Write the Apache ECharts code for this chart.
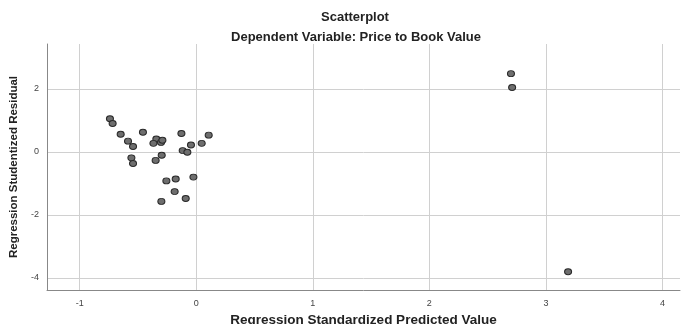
<!DOCTYPE html>
<html><head><meta charset="utf-8">
<script src="https://cdn.jsdelivr.net/npm/echarts@6/dist/echarts.min.js"></script>
<style>html,body{margin:0;padding:0;background:#fff}#c{width:684px;height:324px}</style>
</head><body><div id="c"></div>
<script>
var predicted = [-0.74,-0.717,-0.648,-0.457,-0.585,-0.542,-0.342,-0.367,-0.302,-0.29,-0.127,0.107,0.047,-0.045,-0.116,-0.076,-0.296,-0.348,-0.556,-0.542,-0.024,-0.176,-0.256,-0.185,-0.09,-0.299,2.70,2.71,3.19];
var residual  = [1.05,0.90,0.56,0.62,0.34,0.17,0.41,0.27,0.30,0.37,0.58,0.53,0.27,0.22,0.04,-0.01,-0.11,-0.27,-0.19,-0.37,-0.80,-0.86,-0.92,-1.26,-1.48,-1.57,2.48,2.04,-3.80];
var xTicks = [-1,0,1,2,3,4];
var yTicks = [-4,-2,0,2];
var titleText = 'Scatterplot';
var subTitleText = 'Dependent Variable: Price to Book Value';
var xName = 'Regression Standardized Predicted Value';
var yName = 'Regression Studentized Residual';

var pts = predicted.map(function(v,i){return [v, residual[i]];});
var chart = echarts.init(document.getElementById('c'));
var font = 'Liberation Sans, Arial, sans-serif';
function fmt(v){ return (Math.abs(v - Math.round(v)) < 1e-9) ? String(Math.round(v)) : ''; }
chart.setOption({
  animation:false,
  title:[
    {text:titleText,left:350,top:6,textAlign:'center',textStyle:{fontFamily:font,fontSize:13,fontWeight:'bold',color:'#222'}},
    {text:subTitleText,left:351,top:26,textAlign:'center',textStyle:{fontFamily:font,fontSize:13,fontWeight:'bold',color:'#222'}}
  ],
  grid:{left:47,right:4,top:44,bottom:34,containLabel:false,outerBoundsMode:'none'},
  xAxis:{type:'value',min:-1.28,max:4.15,splitNumber:5,minInterval:1,maxInterval:1,
    name:xName,nameLocation:'middle',nameGap:19,
    nameTextStyle:{fontFamily:font,fontSize:13.5,fontWeight:'bold',color:'#222'},
    axisLine:{show:true,onZero:false,lineStyle:{color:'#888',width:1}},
    axisTick:{show:false},
    axisLabel:{fontFamily:font,fontSize:9,color:'#444',margin:9,formatter:fmt,showMinLabel:false,showMaxLabel:false},
    splitLine:{show:true,showMinLine:false,showMaxLine:false,lineStyle:{color:'#d0d0d0',width:1}}
  },
  yAxis:{type:'value',min:-4.38,max:3.42,splitNumber:4,minInterval:2,maxInterval:2,
    name:yName,nameLocation:'middle',nameGap:22,nameRotate:90,
    nameTextStyle:{fontFamily:font,fontSize:11.5,fontWeight:'bold',color:'#222'},
    axisLine:{show:true,onZero:false,lineStyle:{color:'#888',width:1}},
    axisTick:{show:false},
    axisLabel:{fontFamily:font,fontSize:9,color:'#444',margin:8,formatter:fmt,showMinLabel:false,showMaxLabel:false},
    splitLine:{show:true,showMinLine:false,showMaxLine:false,lineStyle:{color:'#d0d0d0',width:1}}
  },
  series:[{type:'scatter',data:pts,symbol:'circle',symbolSize:[7,6],
    itemStyle:{color:'#6e6e6e',borderColor:'#2a2a2a',borderWidth:1,opacity:1}}]
});
</script></body></html>
